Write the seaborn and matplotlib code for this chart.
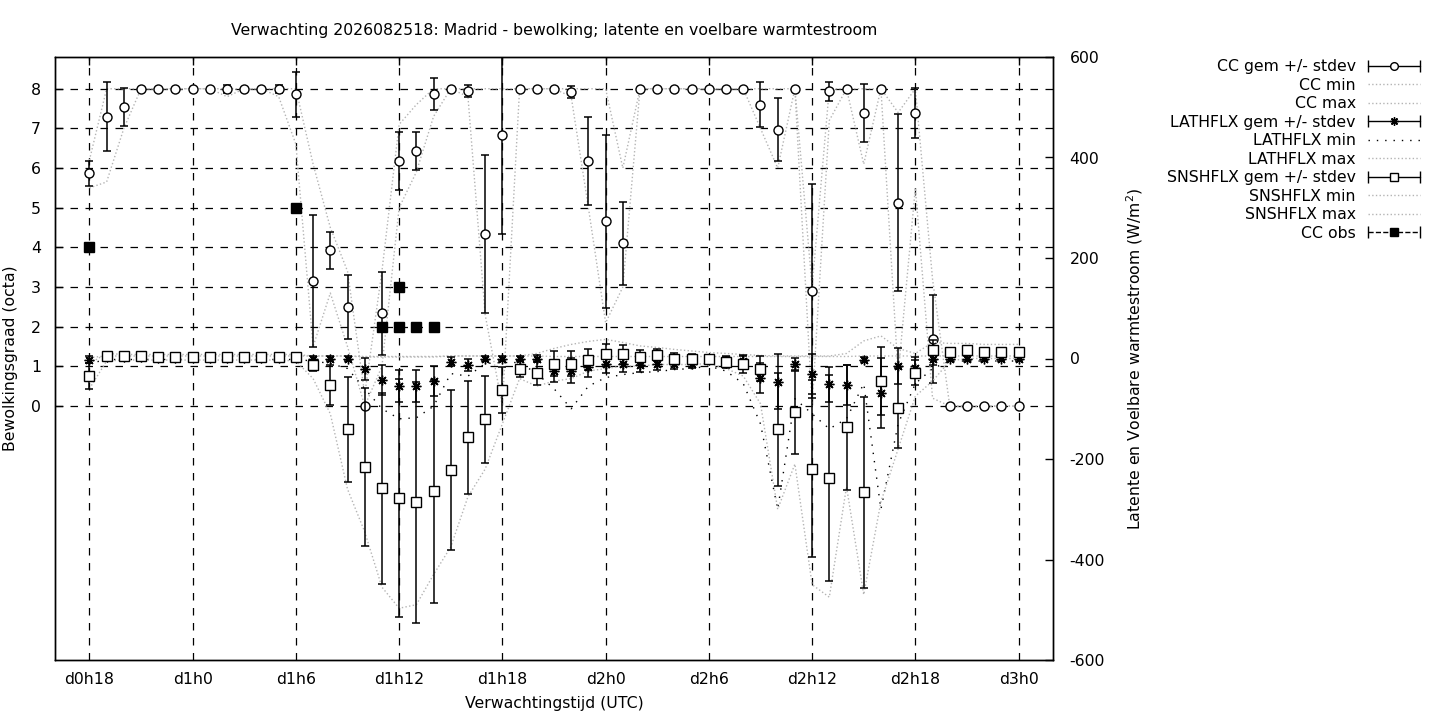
import matplotlib
matplotlib.use("Agg")
import matplotlib.pyplot as plt
from matplotlib.lines import Line2D
from matplotlib.legend_handler import HandlerBase
import seaborn as sns

# hourly lead times, d0h18 .. d3h0
hours = list(range(18, 73))
tick_hours = [18, 24, 30, 36, 42, 48, 54, 60, 66, 72]
tick_labels = ["d0h18", "d1h0", "d1h6", "d1h12", "d1h18",
               "d2h0", "d2h6", "d2h12", "d2h18", "d3h0"]

# cloud cover (octa)
cc_mean = [5.87, 7.29, 7.53, 8, 8, 8, 8, 8, 8, 8, 8, 8, 7.86, 3.15, 3.93, 2.50, 0.0,
           2.34, 6.18, 6.43, 7.86, 8, 7.94, 4.34, 6.83, 8, 8, 8, 7.92, 6.18, 4.66, 4.10,
           8, 8, 8, 8, 8, 8, 8, 7.60, 6.97, 8, 2.90, 7.94, 8, 7.38, 8, 5.13, 7.38, 1.69,
           0, 0, 0, 0, 0]
cc_std = [0.32, 0.87, 0.48, 0, 0, 0, 0, 0, 0.1, 0, 0, 0.1, 0.56, 1.66, 0.47, 0.80, 0,
          1.04, 0.72, 0.47, 0.40, 0, 0.16, 2.0, 2.5, 0, 0, 0, 0.15, 1.12, 2.18, 1.05,
          0, 0, 0, 0, 0, 0, 0, 0.57, 0.80, 0, 2.7, 0.24, 0, 0.73, 0, 2.24, 0.63, 1.12,
          0, 0, 0, 0, 0]
cc_min = [5.5, 5.65, 7.0, 8, 8, 8, 8, 8, 7.8, 8, 8, 7.8, 6.6, 1.5, 2.85, 1.5, 0,
          1.0, 5.0, 5.9, 7.3, 8, 7.8, 2.3, 0, 8, 8, 8, 7.8, 5.0, 2.1, 3.0,
          8, 8, 8, 8, 8, 8, 8, 7.0, 6.0, 8, 0, 7.2, 8, 6.1, 8, 0.8, 5.5, 0.2,
          0, 0, 0, 0, 0]
cc_max = [6.2, 8, 8, 8, 8, 8, 8, 8, 8, 8, 8, 8, 8, 6.1, 4.5, 3.4, 0.3,
          3.4, 7.1, 7.6, 8, 8, 8, 8, 8, 8, 8, 8, 8, 8, 8, 6.0,
          8, 8, 8, 8, 8, 8, 8, 8, 8, 8, 3.0, 8, 8, 8, 8, 7.4, 8, 3.2,
          0, 0, 0, 0, 0]

# latent heat flux (W/m2)
lat_mean = [-2, 2, 2, 2, 1, 1, 1, 1, 1, 1, 1, 1, 1, 0, 0, 0, -21,
            -43, -55, -55, -45, -6, -13, 0, 0, 0, 0, -25, -24, -16, -10, -10,
            -12, -10, -10, -10, -3, -8, -5, -39, -46, -11, -31, -51, -52, -2, -69, -15, -18, 0,
            0, 0, 0, 0, 0]
lat_std = [7, 3, 3, 3, 3, 3, 3, 3, 3, 3, 3, 3, 3, 4, 4, 4, 22,
           30, 32, 32, 30, 8, 12, 4, 4, 4, 6, 22, 25, 20, 18, 16,
           14, 12, 10, 8, 6, 10, 10, 30, 55, 12, 40, 35, 40, 5, 70, 35, 20, 12,
           4, 4, 4, 4, 4]
lat_min = [-10, -2, -2, -2, -2, -2, -2, -2, -2, -2, -2, -2, -2, -5, -10, -20, -60,
           -100, -120, -118, -95, -30, -35, -10, -8, -8, -30, -60, -100, -55, -38, -32,
           -28, -26, -22, -20, -15, -25, -50, -130, -300, -80, -110, -140, -120, -50, -300, -130, -50, -20,
           -5, -5, -5, -5, -5]
lat_max = [2, 5, 5, 5, 5, 5, 5, 5, 5, 5, 5, 5, 5, 5, 5, 5, 4,
           4, 4, 4, 4, 5, 5, 5, 5, 5, 5, 4, 4, 4, 4, 4,
           4, 4, 4, 4, 4, 4, 4, 4, 4, 4, 4, 4, 4, 5, 5, 5, 5, 5,
           5, 5, 5, 5, 5]

# sensible heat flux (W/m2)
sns_mean = [-35, 5, 5, 5, 3, 3, 3, 3, 3, 2, 3, 3, 3, -13, -53, -141, -216,
            -258, -278, -286, -264, -222, -157, -121, -63, -20, -28, -10, -10, -2, 8, 8,
            2, 7, 0, -1, -1, -6, -11, -20, -141, -107, -219, -238, -137, -266, -45, -99, -28, 17,
            13, 17, 13, 13, 13]
sns_std = [26, 3, 3, 3, 3, 3, 3, 3, 3, 3, 3, 3, 3, 11, 40, 104, 158,
           190, 237, 240, 222, 159, 112, 87, 46, 17, 24, 25, 25, 20, 20, 18,
           15, 12, 10, 10, 5, 10, 17, 25, 113, 83, 177, 205, 124, 190, 68, 80, 25, 20,
           8, 8, 6, 6, 6]
sns_min = [-60, -5, -3, -3, -3, -3, -3, -3, -3, -3, -3, -3, -5, -40, -110, -260, -345,
           -455, -497, -490, -430, -375, -275, -220, -130, -40, -55, -45, -40, -25, -20, -15,
           -15, -12, -12, -12, -10, -20, -35, -90, -300, -210, -450, -475, -255, -470, -285, -180, -75, -45,
           -5, 0, 0, 0, 0]
sns_max = [-10, 10, 8, 8, 8, 8, 8, 8, 8, 8, 8, 8, 8, 5, 5, 5, 3,
           3, 3, 3, 3, 5, 5, 5, 5, 5, 10, 20, 28, 34, 38, 32,
           25, 22, 18, 15, 12, 10, 8, 6, 5, 5, 5, 5, 10, 35, 45, 20, 10, 32,
           30, 30, 28, 28, 28]

# observed cloud cover
obs_hours = [18, 30, 35, 36, 36, 37, 38]
obs_cc = [4, 5, 2, 3, 2, 2, 2]

GRAY = "#b4b4b4"
FS = 11.3


class ErrHandler(HandlerBase):
    """gnuplot style key sample: horizontal bar with caps and a marker."""
    def create_artists(self, legend, orig_handle, xdescent, ydescent,
                       width, height, fontsize, trans):
        y = height / 2 - ydescent
        x0, x1 = -xdescent, width - xdescent
        line = Line2D([x0, x1], [y, y], color="black", lw=1,
                      ls=orig_handle.get_linestyle())
        caps = Line2D([x0, x1], [y, y], ls="none", marker="|", ms=8,
                      mew=1, color="black")
        mk = Line2D([(x0 + x1) / 2], [y], ls="none",
                    marker=orig_handle.get_marker(),
                    ms=orig_handle.get_markersize() * 0.85,
                    mfc=orig_handle.get_markerfacecolor(), mec="black", mew=1)
        for a in (line, caps, mk):
            a.set_transform(trans)
        return [line, caps, mk]


sns.set_theme(style="white")
plt.rcParams["font.family"] = ["DejaVu Sans"]
plt.rcParams["axes.unicode_minus"] = False
plt.rcParams["text.color"] = "black"
plt.rcParams["axes.labelcolor"] = "black"
plt.rcParams["axes.edgecolor"] = "black"
plt.rcParams["axes.linewidth"] = 1.0

fig = plt.figure(figsize=(14.4, 7.2), dpi=100)
ax = fig.add_axes([55 / 1440, 60 / 720, 998 / 1440, 603 / 720])
ax2 = ax.twinx()

ax.set_xlim(16, 74)
ax.set_ylim(-6.4, 8.8)
ax2.set_ylim(-600, 600)

grid_kw = dict(color="black", lw=0.9, ls=(0, (6, 6)))
ax.grid(True, **grid_kw)
ax.set_axisbelow(True)

# cloud cover on the left axis
sns.lineplot(x=hours, y=cc_min, ax=ax, color=GRAY, lw=1, linestyle=":", legend=False)
sns.lineplot(x=hours, y=cc_max, ax=ax, color=GRAY, lw=1, linestyle=":", legend=False)
ax.errorbar(hours, cc_mean, yerr=cc_std, fmt="none", ecolor="black",
            elinewidth=1.1, capsize=3, capthick=1.1)
ax.plot(hours, cc_mean, ls="none", marker="o", ms=6.5, mfc="white", mec="black", mew=1)
ax.plot(obs_hours, obs_cc, ls="none", marker="s", ms=6.5, mfc="black", mec="black")

# fluxes on the right axis
sns.lineplot(x=hours, y=lat_min, ax=ax2, color="black", lw=1,
             linestyle=(0, (1, 5)), legend=False)
sns.lineplot(x=hours, y=lat_max, ax=ax2, color=GRAY, lw=1, linestyle=":", legend=False)
sns.lineplot(x=hours, y=sns_min, ax=ax2, color=GRAY, lw=1, linestyle=":", legend=False)
sns.lineplot(x=hours, y=sns_max, ax=ax2, color=GRAY, lw=1, linestyle=":", legend=False)
ax2.errorbar(hours, lat_mean, yerr=lat_std, fmt="none", ecolor="black",
             elinewidth=1.1, capsize=3, capthick=1.1)
ax2.plot(hours, lat_mean, ls="none", marker=(8, 2, 0), ms=7, mec="black", mew=1)
ax2.errorbar(hours, sns_mean, yerr=sns_std, fmt="none", ecolor="black",
             elinewidth=1.1, capsize=3, capthick=1.1)
ax2.plot(hours, sns_mean, ls="none", marker="s", ms=6.5, mfc="white", mec="black", mew=1)

# axes, ticks and labels
ax.set_xticks(tick_hours)
ax.set_xticklabels(tick_labels)
ax.set_yticks([0, 1, 2, 3, 4, 5, 6, 7, 8])
ax2.set_yticks([-600, -400, -200, 0, 200, 400, 600])
ax.tick_params(axis="both", direction="in", length=6, width=1, labelsize=FS,
               colors="black", labelcolor="black", pad=9, top=True, right=False)
ax.tick_params(axis="y", pad=10)
ax2.tick_params(axis="y", direction="in", length=6, width=1, labelsize=FS,
                colors="black", labelcolor="black", pad=12)
for a in (ax, ax2):
    for s in a.spines.values():
        s.set_color("black")
        s.set_linewidth(1)

ax.set_xlabel("Verwachtingstijd (UTC)", fontsize=FS, labelpad=6)
ax.set_ylabel("Bewolkingsgraad (octa)", fontsize=FS)
ax.yaxis.set_label_coords(-0.037, 0.5)
ax2.set_ylabel("Latente en Voelbare warmtestroom (W/m$^2$)", fontsize=FS)
ax2.yaxis.set_label_coords(1.071, 0.5)
ax.set_title("Verwachting 2026082518: Madrid - bewolking; latente en voelbare warmtestroom",
             fontsize=FS, pad=16)

# key
h_cc = Line2D([], [], marker="o", mfc="white", ls="-", ms=6.5)
h_lat = Line2D([], [], marker=(8, 2, 0), mfc="black", ls="-", ms=7)
h_sns = Line2D([], [], marker="s", mfc="white", ls="-", ms=6.5)
h_obs = Line2D([], [], marker="s", mfc="black", ls=(0, (3, 3)), ms=6.5)
dot_gray = Line2D([], [], color=GRAY, lw=1, ls=":")
dot_black = Line2D([], [], color="black", lw=1, ls=(0, (1, 5)))
handles = [h_cc, dot_gray, dot_gray, h_lat, dot_black, dot_gray,
           h_sns, dot_gray, dot_gray, h_obs]
labels = ["CC gem +/- stdev", "CC min", "CC max",
          "LATHFLX gem +/- stdev", "LATHFLX min", "LATHFLX max",
          "SNSHFLX gem +/- stdev", "SNSHFLX min", "SNSHFLX max", "CC obs"]
eh = ErrHandler()
fig.legend(handles, labels, loc="upper right", bbox_to_anchor=(0.996, 0.937),
           frameon=False, markerfirst=False, fontsize=FS, handlelength=3.3,
           labelspacing=0.22, handletextpad=0.8,
           handler_map={h_cc: eh, h_lat: eh, h_sns: eh, h_obs: eh})

fig.savefig("out.png", dpi=100)
